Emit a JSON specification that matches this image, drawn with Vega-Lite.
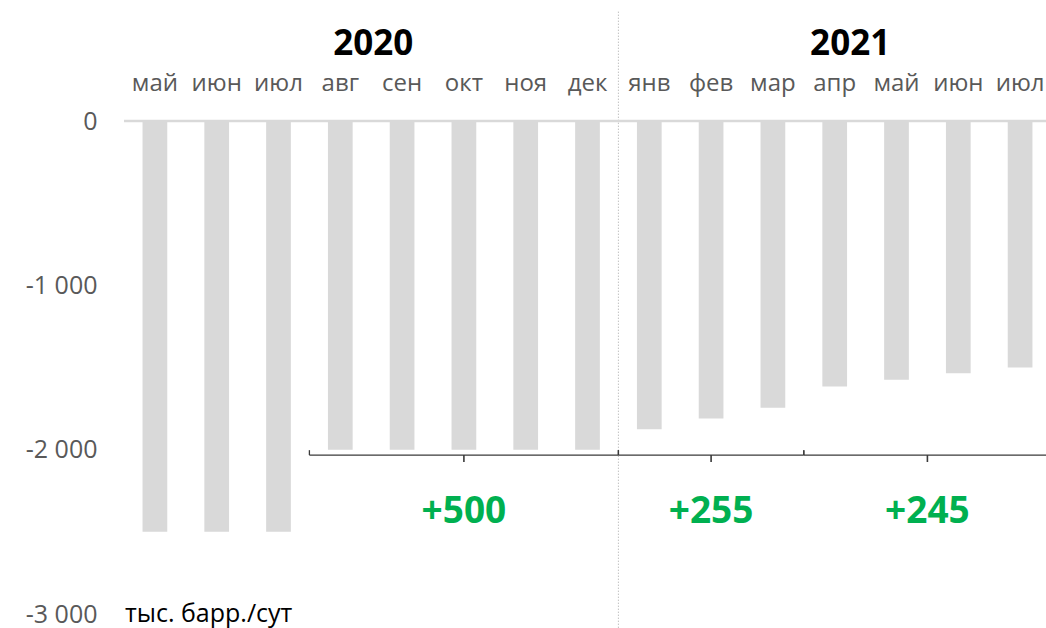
{
  "$schema": "https://vega.github.io/schema/vega-lite/v6.json",
  "width": 927,
  "height": 493,
  "autosize": {"type": "none"},
  "padding": {"left": 124, "top": 121, "right": -5, "bottom": 14},
  "config": {"view": {"stroke": null}, "font": "Open Sans", "axis": {"title": null}},
  "datasets": {
    "months": [
      {"m": "май 2020", "v": -2500},
      {"m": "июн 2020", "v": -2500},
      {"m": "июл 2020", "v": -2500},
      {"m": "авг 2020", "v": -2000},
      {"m": "сен 2020", "v": -2000},
      {"m": "окт 2020", "v": -2000},
      {"m": "ноя 2020", "v": -2000},
      {"m": "дек 2020", "v": -2000},
      {"m": "янв 2021", "v": -1875},
      {"m": "фев 2021", "v": -1810},
      {"m": "мар 2021", "v": -1745},
      {"m": "апр 2021", "v": -1615},
      {"m": "май 2021", "v": -1575},
      {"m": "июн 2021", "v": -1535},
      {"m": "июл 2021", "v": -1500}
    ],
    "brackets": [
      {"m": "авг 2020", "m2": "дек 2020", "c": "окт 2020", "n": 5, "t": "+500"},
      {"m": "янв 2021", "m2": "мар 2021", "c": "фев 2021", "n": 3, "t": "+255"},
      {"m": "апр 2021", "m2": "июл 2021", "c": "июн 2021", "n": 4, "t": "+245"}
    ],
    "years": [
      {"m": "авг 2020", "year": "2020"},
      {"m": "апр 2021", "year": "2021"}
    ],
    "divider": [{"m": "янв 2021"}],
    "unit": [{"m": "май 2020", "t": "тыс. барр./сут"}]
  },
  "layer": [
    {
      "data": {"name": "months"},
      "mark": {"type": "bar", "color": "#d9d9d9", "width": {"band": 0.4}},
      "encoding": {
        "x": {
          "field": "m", "type": "nominal", "sort": null,
          "scale": {
            "domain": ["май 2020","июн 2020","июл 2020","авг 2020","сен 2020","окт 2020","ноя 2020","дек 2020","янв 2021","фев 2021","мар 2021","апр 2021","май 2021","июн 2021","июл 2021"],
            "paddingInner": 0, "paddingOuter": 0
          },
          "axis": {
            "orient": "top", "domain": false, "ticks": false, "tickSize": 0,
            "labelAngle": 0, "labelFontSize": 24, "labelColor": "#595959",
            "labelPadding": 26, "labelExpr": "split(datum.label, ' ')[0]"
          }
        },
        "y": {
          "field": "v", "type": "quantitative",
          "scale": {"domain": [-3000, 0], "nice": false, "zero": false},
          "axis": {
            "values": [0, -1000, -2000, -3000], "domain": false, "ticks": false, "tickSize": 0,
            "grid": false, "labelFontSize": 25, "labelColor": "#595959", "labelPadding": 27,
            "labelExpr": "datum.value == 0 ? '0' : '-' + replace(format(-datum.value, ','), ',', ' ')"
          }
        }
      }
    },
    {
      "data": {"name": "divider"},
      "mark": {"type": "rule", "color": "#a6a6a6", "strokeWidth": 1, "strokeDash": [1, 2]},
      "encoding": {
        "x": {"field": "m", "type": "nominal", "bandPosition": 0},
        "y": {"datum": 665, "type": "quantitative"},
        "y2": {"datum": -3090}
      }
    },
    {
      "data": {"name": "divider"},
      "mark": {"type": "rule", "color": "#d9d9d9", "strokeWidth": 2.5},
      "encoding": {
        "y": {"datum": 0, "type": "quantitative"}
      }
    },
    {
      "data": {"name": "brackets"},
      "mark": {"type": "rule", "color": "#3a3a3a", "strokeWidth": 1.3},
      "encoding": {
        "x": {"field": "m", "type": "nominal", "bandPosition": 0},
        "x2": {"field": "m2", "bandPosition": 1},
        "y": {"datum": -2033, "type": "quantitative"}
      }
    },
    {
      "data": {"name": "brackets"},
      "mark": {"type": "rule", "color": "#3a3a3a", "strokeWidth": 1.3},
      "encoding": {
        "x": {"field": "m", "type": "nominal", "bandPosition": 0},
        "y": {"datum": -2033, "type": "quantitative"},
        "y2": {"datum": -2003}
      }
    },
    {
      "data": {"name": "brackets"},
      "mark": {"type": "rule", "color": "#3a3a3a", "strokeWidth": 1.3},
      "encoding": {
        "x": {"field": "m2", "type": "nominal", "bandPosition": 1},
        "y": {"datum": -2033, "type": "quantitative"},
        "y2": {"datum": -2003}
      }
    },
    {
      "data": {"name": "brackets"},
      "transform": [{"filter": "datum.n % 2 == 1"}],
      "layer": [
        {
          "mark": {"type": "rule", "color": "#3a3a3a", "strokeWidth": 1.6},
          "encoding": {
            "x": {"field": "c", "type": "nominal", "bandPosition": 0.5},
            "y": {"datum": -2033, "type": "quantitative"},
            "y2": {"datum": -2075}
          }
        },
        {
          "mark": {"type": "text", "color": "#00b050", "fontSize": 37, "fontWeight": "bold", "baseline": "alphabetic", "align": "center"},
          "encoding": {
            "x": {"field": "c", "type": "nominal", "bandPosition": 0.5},
            "y": {"datum": -2447, "type": "quantitative"},
            "text": {"field": "t"}
          }
        }
      ]
    },
    {
      "data": {"name": "brackets"},
      "transform": [{"filter": "datum.n % 2 == 0"}],
      "layer": [
        {
          "mark": {"type": "rule", "color": "#3a3a3a", "strokeWidth": 1.6},
          "encoding": {
            "x": {"field": "c", "type": "nominal", "bandPosition": 0},
            "y": {"datum": -2033, "type": "quantitative"},
            "y2": {"datum": -2075}
          }
        },
        {
          "mark": {"type": "text", "color": "#00b050", "fontSize": 37, "fontWeight": "bold", "baseline": "alphabetic", "align": "center"},
          "encoding": {
            "x": {"field": "c", "type": "nominal", "bandPosition": 0},
            "y": {"datum": -2447, "type": "quantitative"},
            "text": {"field": "t"}
          }
        }
      ]
    },
    {
      "data": {"name": "years"},
      "transform": [{"filter": "datum.year == '2020'"}],
      "mark": {"type": "text", "color": "#000000", "fontSize": 35, "fontWeight": "bold", "baseline": "alphabetic", "align": "center", "dx": 2},
      "encoding": {
        "x": {"field": "m", "type": "nominal", "bandPosition": 1},
        "y": {"datum": 402, "type": "quantitative"},
        "text": {"field": "year"}
      }
    },
    {
      "data": {"name": "years"},
      "transform": [{"filter": "datum.year == '2021'"}],
      "mark": {"type": "text", "color": "#000000", "fontSize": 35, "fontWeight": "bold", "baseline": "alphabetic", "align": "center"},
      "encoding": {
        "x": {"field": "m", "type": "nominal", "bandPosition": 0.75},
        "y": {"datum": 402, "type": "quantitative"},
        "text": {"field": "year"}
      }
    },
    {
      "data": {"name": "unit"},
      "mark": {"type": "text", "color": "#000000", "fontSize": 25, "baseline": "middle", "align": "left", "dx": 1},
      "encoding": {
        "x": {"field": "m", "type": "nominal", "bandPosition": 0},
        "y": {"datum": -3000, "type": "quantitative"},
        "text": {"field": "t"}
      }
    }
  ]
}
